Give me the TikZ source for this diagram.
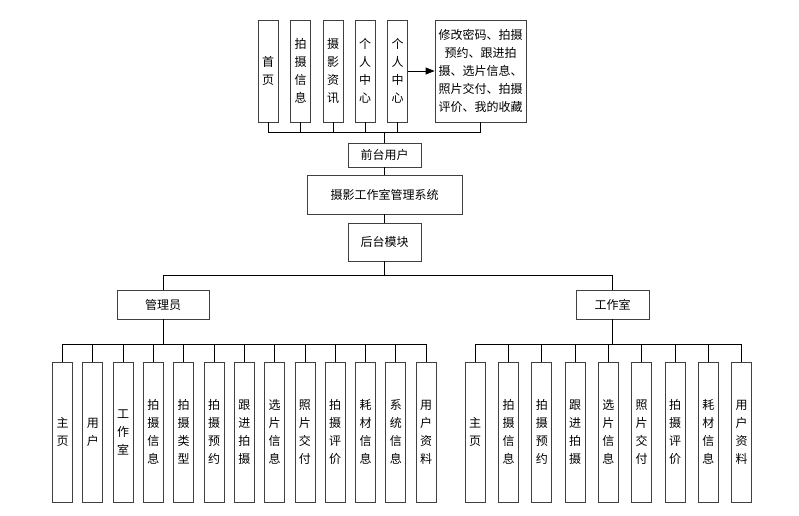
\documentclass[tikz,border=0pt]{standalone}
\usepackage{fontspec}
\setmainfont{Noto Sans CJK SC}
\usetikzlibrary{positioning,arrows.meta}

\tikzset{
  box/.style={draw=black!75, line width=0.8pt, fill=white, inner sep=0pt,
    align=center, font=\fontsize{12}{18}\selectfont},
  tallbox/.style={box, minimum width=20pt, minimum height=102pt},
  leafbox/.style={box, minimum width=20pt, minimum height=140pt},
  link/.style={line width=0.8pt, black},
}

\begin{document}
\begin{tikzpicture}[x=1pt,y=-1pt]
	\useasboundingbox (0,0) rectangle (799,515);

	% front-end user
	\node[tallbox] (shouye) at (268,71) {首\\页};
	\node[tallbox] (paishe) at (300.5,71) {拍\\摄\\信\\息};
	\node[tallbox] (zixun) at (333,71) {摄\\影\\资\\讯};
	\node[tallbox] (geren1) at (365,71) {个\\人\\中\\心};
	\node[tallbox] (geren2) at (397.5,71) {个\\人\\中\\心};
	\node[box, minimum width=91pt, minimum height=102pt] (gongneng) at (480.5,71)
	{修改密码、拍摄\\预约、跟进拍\\摄、选片信息、\\照片交付、拍摄\\评价、我的收藏};

	\draw[link, -{Triangle[length=9pt,width=7pt]}] (geren2) -- (gongneng);

	\node[box, minimum width=73pt, minimum height=24pt] (qiantai) at (384.5,155) {前台用户};
	\node[box, minimum width=155pt, minimum height=39pt] (xitong) at (384.5,194.5) {摄影工作室管理系统};
	\node[box, minimum width=73pt, minimum height=38pt] (houtai) at (384.5,242) {后台模块};

	\foreach \n in {shouye,paishe,zixun,geren1,geren2,gongneng}
		\draw[link] (\n.south) -- ++(0,9.5) -| (qiantai.north);
	\draw[link] (qiantai) -- (xitong);
	\draw[link] (xitong) -- (houtai);

	% back-end
	\node[box, minimum width=92pt, minimum height=29pt] (guanli) at (163,304.5) {管理员};
	\node[box, minimum width=73pt, minimum height=29pt] (gongzuo) at (612.5,304.5) {工作室};
	\draw[link] (houtai.south) -- ++(0,14) -| (guanli.north);
	\draw[link] (houtai.south) -- ++(0,14) -| (gongzuo.north);

	\foreach \t [count=\i] in {{主\\页},{用\\户},{工\\作\\室},{拍\\摄\\信\\息},
		{拍\\摄\\类\\型},{拍\\摄\\预\\约},{跟\\进\\拍\\摄},{选\\片\\信\\息},
		{照\\片\\交\\付},{拍\\摄\\评\\价},{耗\\材\\信\\息},{系\\统\\信\\息},
		{用\\户\\资\\料}}{
		\node[leafbox] (a\i) at ({62.5+30.3*(\i-1)},432) {\t};
		\draw[link] (guanli.south) -- ++(0,25) -| (a\i.north);
	}

	\foreach \t [count=\i] in {{主\\页},{拍\\摄\\信\\息},{拍\\摄\\预\\约},
		{跟\\进\\拍\\摄},{选\\片\\信\\息},{照\\片\\交\\付},{拍\\摄\\评\\价},
		{耗\\材\\信\\息},{用\\户\\资\\料}}{
		\node[leafbox] (s\i) at ({475.2+33.3*(\i-1)},432) {\t};
		\draw[link] (gongzuo.south) -- ++(0,25) -| (s\i.north);
	}
\end{tikzpicture}
\end{document}
